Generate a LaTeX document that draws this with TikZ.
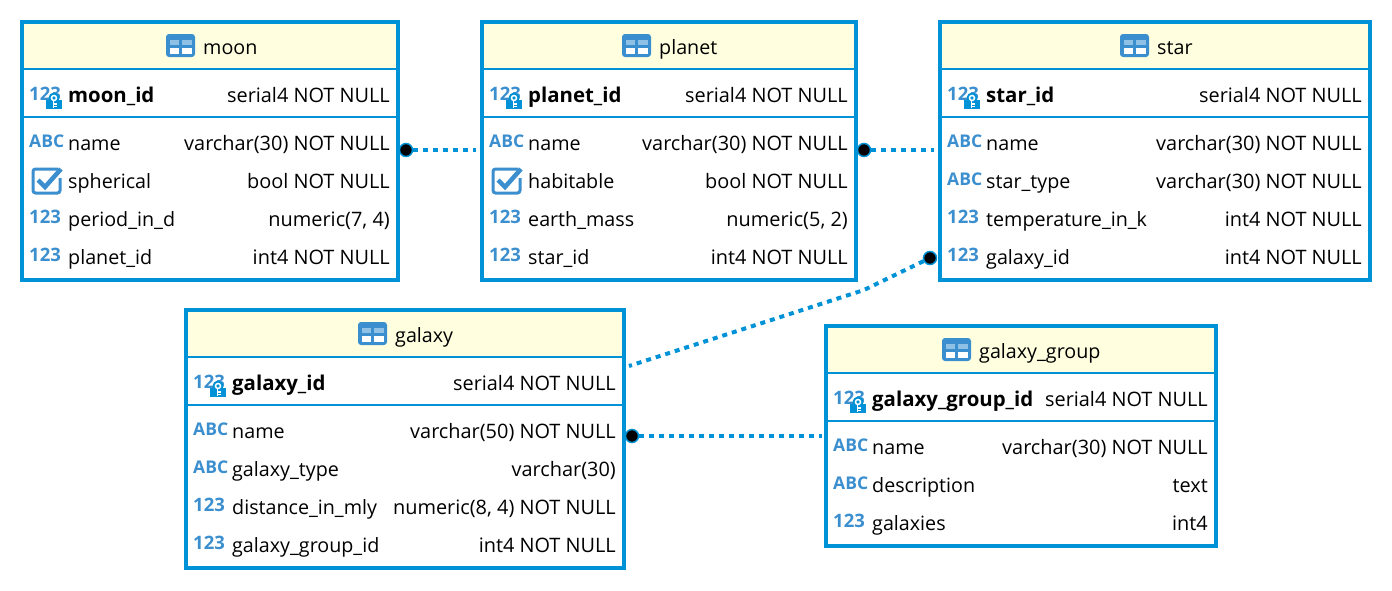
\documentclass[tikz,border=0pt]{standalone}
\usepackage{fontspec}
\setmainfont{Open Sans}
\usepackage{xcolor}
\usetikzlibrary{positioning, arrows.meta}

\definecolor{frameblue}{HTML}{0092D6}
\definecolor{iconblue}{HTML}{3C8FCF}
\definecolor{iconlight}{HTML}{8FC0E6}
\definecolor{headyellow}{HTML}{FFFFE0}

\begin{document}
\begin{tikzpicture}[
            x=1pt, y=-1pt,
            tablebox/.style={
                    draw=frameblue,
                    line width=4pt,
                    outer sep=0pt
                },
            headbox/.style={
                    fill=headyellow,
                    outer sep=0pt,
                    inner sep=0pt
                },
            keybox/.style={
                    outer sep=0pt,
                    inner sep=0pt
                },
            rule/.style={
                    draw=frameblue,
                    line width=2pt
                },
            colname/.style={
                    anchor=base west,
                    inner sep=0pt,
                    yshift=-1.4pt,
                    font=\fontsize{19.7}{20}\selectfont
                },
            keyname/.style={
                    colname,
                    font=\fontsize{20.4}{20}\selectfont\bfseries
                },
            coltype/.style={
                    anchor=base east,
                    inner sep=0pt,
                    xshift=1pt,
                    yshift=-1.4pt,
                    font=\fontsize{19.9}{20}\selectfont
                },
            abcmark/.style={
                    anchor=base west,
                    inner sep=0pt,
                    text=iconblue,
                    font=\fontsize{17.5}{17}\selectfont\bfseries
                },
            nummark/.style={
                    abcmark,
                    font=\fontsize{18.5}{18.5}\selectfont\bfseries
                },
            enddot/.style={
                    circle,
                    fill=black,
                    draw=frameblue,
                    line width=1.5pt,
                    inner sep=0pt,
                    minimum size=13pt
                },
            link/.style={
                    draw=frameblue,
                    line width=4pt,
                    dash pattern=on 5pt off 5pt
                },
            tableicon/.pic={
                    \fill[iconblue, rounded corners=3pt] (0,0) rectangle (29,23);
                    \fill[iconlight] (3.5,6) rectangle (13,11);
                    \fill[iconlight] (15.5,6) rectangle (26,11);
                    \fill[white] (3.5,14) rectangle (13,20);
                    \fill[white] (15.5,14) rectangle (26,20);
                },
            keyicon/.pic={
                    \fill[frameblue] (0,5) rectangle (16,14);
                    \fill[frameblue] (8,3) circle (5.5);
                    \draw[white, line width=1.5pt] (8,3) circle (2.5);
                    \draw[white, line width=1.5pt] (7.5,5.5) -- (7.5,12.5);
                    \draw[white, line width=1.2pt] (7.5,9) -- (10.5,9);
                    \draw[white, line width=1.2pt] (7.5,11.5) -- (10.5,11.5);
                },
            checkicon/.pic={
                    \draw[iconblue, line width=3pt, rounded corners=2.5pt] (27,3) -- (2,3) -- (2,27) -- (29,27) -- (29,12);
                    \draw[iconblue, line width=4.5pt] (7,14) -- (14,21) -- (30,3);
                }
        ]
        \useasboundingbox (0,0) rectangle (1392,590);

        % moon
        \node[headbox, minimum width=376pt, minimum height=47pt] (moonhead) at (210,45.5) {};
        \node[keybox, minimum width=376pt, minimum height=48pt] (moonkey) at (210,93) {};
        \node[tablebox, minimum width=376pt, minimum height=258pt] (moon) at (210,151) {};
        \draw[rule] (moonhead.south west) -- (moonhead.south east);
        \draw[rule] (moonkey.south west) -- (moonkey.south east);
        \pic at (166,34) {tableicon};
        \node[colname] (moontitle) at (203,53) {moon};
        \node[nummark] (moonidmark) at (29,100) {123};
        \pic at (46,95) {keyicon};
        \node[keyname] (moonid) at (68,101) {moon\_id};
        \node[coltype] (moonidtype) at (389,101) {serial4 NOT NULL};
        \node[abcmark] (moonnamemark) at (29,147) {ABC};
        \node[colname] (moonname) at (68,149) {name};
        \node[coltype] (moonnametype) at (389,149) {varchar(30) NOT NULL};
        \pic at (31,166) {checkicon};
        \node[colname] (moonsph) at (68,187) {spherical};
        \node[coltype] (moonsphtype) at (389,187) {bool NOT NULL};
        \node[nummark] (moonperiodmark) at (29,223) {123};
        \node[colname] (moonperiod) at (68,225) {period\_in\_d};
        \node[coltype] (moonperiodtype) at (389,225) {numeric(7, 4)};
        \node[nummark] (moonplanetmark) at (29,261) {123};
        \node[colname] (moonplanet) at (68,263) {planet\_id};
        \node[coltype] (moonplanettype) at (389,263) {int4 NOT NULL};

        % planet
        \node[headbox, minimum width=374pt, minimum height=47pt] (planethead) at (669,45.5) {};
        \node[keybox, minimum width=374pt, minimum height=48pt] (planetkey) at (669,93) {};
        \node[tablebox, minimum width=374pt, minimum height=258pt] (planet) at (669,151) {};
        \draw[rule] (planethead.south west) -- (planethead.south east);
        \draw[rule] (planetkey.south west) -- (planetkey.south east);
        \pic at (622,34) {tableicon};
        \node[colname] (planettitle) at (659,53) {planet};
        \node[nummark] (planetidmark) at (489,100) {123};
        \pic at (506,95) {keyicon};
        \node[keyname] (planetid) at (528,101) {planet\_id};
        \node[coltype] (planetidtype) at (847,101) {serial4 NOT NULL};
        \node[abcmark] (planetnamemark) at (489,147) {ABC};
        \node[colname] (planetname) at (528,149) {name};
        \node[coltype] (planetnametype) at (847,149) {varchar(30) NOT NULL};
        \pic at (491,166) {checkicon};
        \node[colname] (planethab) at (528,187) {habitable};
        \node[coltype] (planethabtype) at (847,187) {bool NOT NULL};
        \node[nummark] (planetmassmark) at (489,223) {123};
        \node[colname] (planetmass) at (528,225) {earth\_mass};
        \node[coltype] (planetmasstype) at (847,225) {numeric(5, 2)};
        \node[nummark] (planetstarmark) at (489,261) {123};
        \node[colname] (planetstar) at (528,263) {star\_id};
        \node[coltype] (planetstartype) at (847,263) {int4 NOT NULL};

        % star
        \node[headbox, minimum width=430pt, minimum height=47pt] (starhead) at (1155,45.5) {};
        \node[keybox, minimum width=430pt, minimum height=48pt] (starkey) at (1155,93) {};
        \node[tablebox, minimum width=430pt, minimum height=258pt] (star) at (1155,151) {};
        \draw[rule] (starhead.south west) -- (starhead.south east);
        \draw[rule] (starkey.south west) -- (starkey.south east);
        \pic at (1120,34) {tableicon};
        \node[colname] (startitle) at (1157,53) {star};
        \node[nummark] (staridmark) at (947,100) {123};
        \pic at (964,95) {keyicon};
        \node[keyname] (starid) at (986,101) {star\_id};
        \node[coltype] (staridtype) at (1361,101) {serial4 NOT NULL};
        \node[abcmark] (starnamemark) at (947,147) {ABC};
        \node[colname] (starname) at (986,149) {name};
        \node[coltype] (starnametype) at (1361,149) {varchar(30) NOT NULL};
        \node[abcmark] (starkindmark) at (947,185) {ABC};
        \node[colname] (starkind) at (986,187) {star\_type};
        \node[coltype] (starkindtype) at (1361,187) {varchar(30) NOT NULL};
        \node[nummark] (startempmark) at (947,223) {123};
        \node[colname] (startemp) at (986,225) {temperature\_in\_k};
        \node[coltype] (startemptype) at (1361,225) {int4 NOT NULL};
        \node[nummark] (stargalaxymark) at (947,261) {123};
        \node[colname] (stargalaxy) at (986,263) {galaxy\_id};
        \node[coltype] (stargalaxytype) at (1361,263) {int4 NOT NULL};

        % galaxy
        \node[headbox, minimum width=438pt, minimum height=47pt] (galaxyhead) at (405,333.5) {};
        \node[keybox, minimum width=438pt, minimum height=48pt] (galaxykey) at (405,381) {};
        \node[tablebox, minimum width=438pt, minimum height=258pt] (galaxy) at (405,439) {};
        \draw[rule] (galaxyhead.south west) -- (galaxyhead.south east);
        \draw[rule] (galaxykey.south west) -- (galaxykey.south east);
        \pic at (358,322) {tableicon};
        \node[colname] (galaxytitle) at (395,341) {galaxy};
        \node[nummark] (galaxyidmark) at (193,388) {123};
        \pic at (210,383) {keyicon};
        \node[keyname] (galaxyid) at (232,389) {galaxy\_id};
        \node[coltype] (galaxyidtype) at (615,389) {serial4 NOT NULL};
        \node[abcmark] (galaxynamemark) at (193,435) {ABC};
        \node[colname] (galaxyname) at (232,437) {name};
        \node[coltype] (galaxynametype) at (615,437) {varchar(50) NOT NULL};
        \node[abcmark] (galaxykindmark) at (193,473) {ABC};
        \node[colname] (galaxykind) at (232,475) {galaxy\_type};
        \node[coltype] (galaxykindtype) at (615,475) {varchar(30)};
        \node[nummark] (galaxydistmark) at (193,511) {123};
        \node[colname] (galaxydist) at (232,513) {distance\_in\_mly};
        \node[coltype] (galaxydisttype) at (615,513) {numeric(8, 4) NOT NULL};
        \node[nummark] (galaxygroupmark) at (193,549) {123};
        \node[colname] (galaxygroup) at (232,551) {galaxy\_group\_id};
        \node[coltype] (galaxygrouptype) at (615,551) {int4 NOT NULL};

        % galaxy_group
        \node[headbox, minimum width=390pt, minimum height=47pt] (grouphead) at (1021,349.5) {};
        \node[keybox, minimum width=390pt, minimum height=48pt] (groupkey) at (1021,397) {};
        \node[tablebox, minimum width=390pt, minimum height=220pt] (group) at (1021,436) {};
        \draw[rule] (grouphead.south west) -- (grouphead.south east);
        \draw[rule] (groupkey.south west) -- (groupkey.south east);
        \pic at (942,338) {tableicon};
        \node[colname] (grouptitle) at (979,357) {galaxy\_group};
        \node[nummark] (groupidmark) at (833,404) {123};
        \pic at (850,399) {keyicon};
        \node[keyname] (groupid) at (872,405) {galaxy\_group\_id};
        \node[coltype] (groupidtype) at (1207,405) {serial4 NOT NULL};
        \node[abcmark] (groupnamemark) at (833,451) {ABC};
        \node[colname] (groupname) at (872,453) {name};
        \node[coltype] (groupnametype) at (1207,453) {varchar(30) NOT NULL};
        \node[abcmark] (groupdescmark) at (833,489) {ABC};
        \node[colname] (groupdesc) at (872,491) {description};
        \node[coltype] (groupdesctype) at (1207,491) {text};
        \node[nummark] (groupcountmark) at (833,527) {123};
        \node[colname] (groupcount) at (872,529) {galaxies};
        \node[coltype] (groupcounttype) at (1207,529) {int4};

        % links
        \node[enddot] (moondot) at (406,150) {};
        \node[enddot] (planetdot) at (864,150) {};
        \node[enddot] (stardot) at (930,258) {};
        \node[enddot] (galaxydot) at (632,436) {};
        \coordinate (planetend) at (476,150);
        \coordinate (starend) at (934,150);
        \coordinate (galaxybend) at (864,290);
        \coordinate (galaxyend) at (629,366);
        \coordinate (groupend) at (822,436);

        \draw[link] (moondot) -- (planetend);
        \draw[link] (planetdot) -- (starend);
        \draw[link] (stardot) -- (galaxybend) -- (galaxyend);
        \draw[link] (galaxydot) -- (groupend);

    \end{tikzpicture}
\end{document}
